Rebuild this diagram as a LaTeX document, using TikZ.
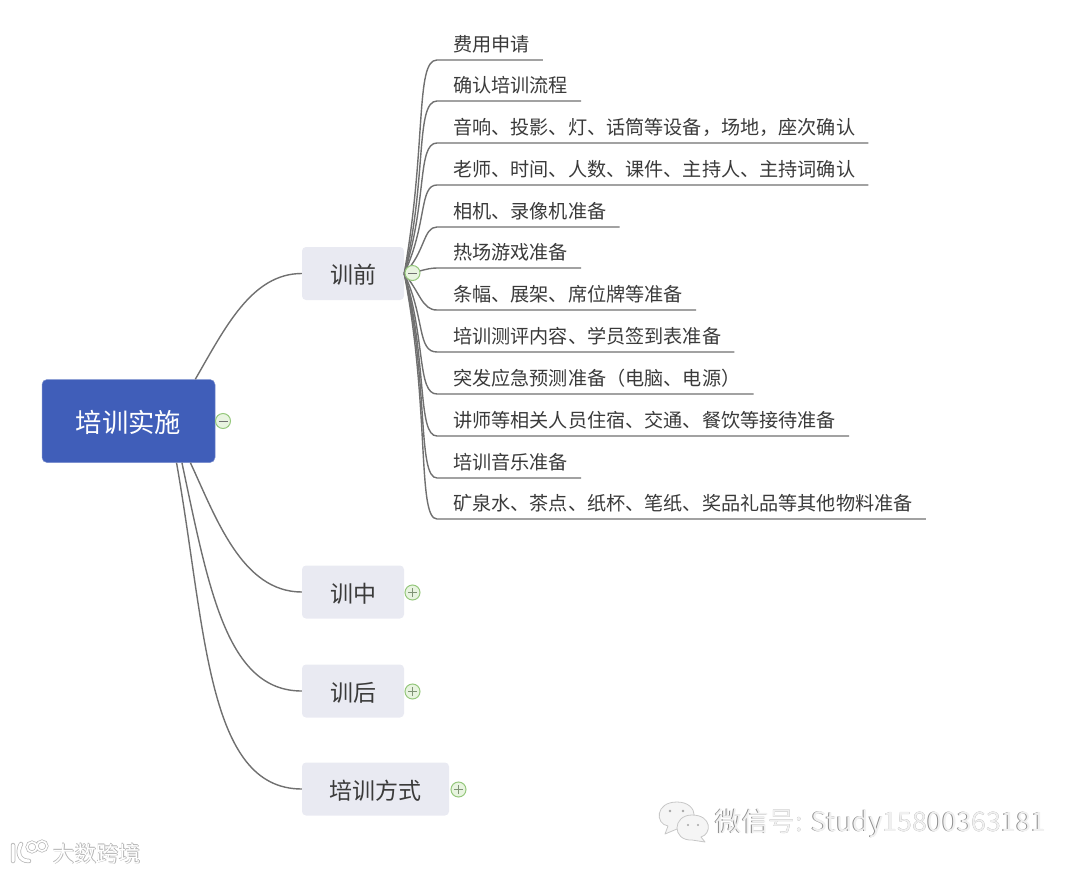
\documentclass[tikz,border=0pt]{standalone}
\usepackage{fontspec}
\setmainfont{Noto Sans CJK SC}
\usepackage{xcolor}
\usetikzlibrary{calc}
\definecolor{rootblue}{RGB}{64,94,185}
\definecolor{branchgray}{RGB}{233,234,242}
\definecolor{inkgray}{RGB}{58,58,58}
\definecolor{linegray}{RGB}{112,112,112}
\definecolor{togglegreen}{RGB}{150,200,125}
\definecolor{togglefill}{RGB}{232,244,224}

\begin{document}
\begin{tikzpicture}[
  x=1pt, y=1pt,
  rootbox/.style={fill=rootblue, draw=rootblue!70!white, line width=0.5pt, rounded corners=5pt,
    minimum width=173pt, minimum height=83pt, text=white, text height=24pt, text depth=2pt,
    font=\fontsize{26.3}{26}\selectfont},
  branchbox/.style={fill=branchgray, rounded corners=4pt, minimum width=102pt,
    minimum height=53pt, text=inkgray, text height=22pt, text depth=2pt,
    font=\fontsize{23}{24}\selectfont},
  leaf/.style={anchor=south west, inner sep=0pt, minimum height=32pt, text=inkgray,
    text height=16.4pt, text depth=2pt, font=\fontsize{19.14}{19}\selectfont,
    execute at begin node={\hspace{16pt}}, execute at end node={\hspace{13pt}}},
  arr/.style={line width=1.4pt, linegray},
  toggle/.style={circle, draw=togglegreen, fill=togglefill, line width=1pt,
    minimum size=15pt, inner sep=0pt},
  tminus/.style={toggle, path picture={
    \draw[linegray, line width=1pt] ([xshift=3pt]path picture bounding box.west) -- ([xshift=-3pt]path picture bounding box.east);}},
  tplus/.style={toggle, path picture={
    \draw[linegray!60!togglegreen, line width=1pt] ([xshift=3pt]path picture bounding box.west) -- ([xshift=-3pt]path picture bounding box.east);
    \draw[linegray!60!togglegreen, line width=1pt] ([yshift=3pt]path picture bounding box.south) -- ([yshift=-3pt]path picture bounding box.north);}},
  wmlow/.style={text=black!45, font=\fontsize{26.7}{27}\selectfont},
  wmtop/.style={text=white!94!black, font=\fontsize{26.7}{27}\selectfont},
  wmlowb/.style={text=black!30, font=\fontsize{22}{22}\selectfont},
  wmtopb/.style={text=white, font=\fontsize{22}{22}\selectfont},
  bubble/.style={fill=white!96!black, draw=black!22, line width=0.8pt, line join=round}
]
\useasboundingbox (0,0) rectangle (1080,-873);

% root and branches
\node[rootbox] (root) at (128.5,-421) {培训实施};
\node[branchbox] (qian) at (353,-273.5) {训前};
\node[branchbox] (zhong) at (353,-592) {训中};
\node[branchbox] (hou) at (353,-691) {训后};
\node[branchbox, minimum width=147pt] (fangshi) at (375.5,-789) {培训方式};

% leaves, anchored on their underline
\node[leaf] (T1) at (437,-60) {费用申请};
\node[leaf] (T2) at (437,-101) {确认培训流程};
\node[leaf] (T3) at (437,-143) {音响、投影、灯、话筒等设备，场地，座次确认};
\node[leaf] (T4) at (437,-185) {老师、时间、人数、课件、主持人、主持词确认};
\node[leaf] (T5) at (437,-227) {相机、录像机准备};
\node[leaf] (T6) at (437,-268) {热场游戏准备};
\node[leaf] (T7) at (437,-310) {条幅、展架、席位牌等准备};
\node[leaf] (T8) at (437,-352) {培训测评内容、学员签到表准备};
\node[leaf] (T9) at (437,-394) {突发应急预测准备（电脑、电源）};
\node[leaf] (T10) at (437,-436) {讲师等相关人员住宿、交通、餐饮等接待准备};
\node[leaf] (T11) at (437,-478) {培训音乐准备};
\node[leaf] (T12) at (437,-519) {矿泉水、茶点、纸杯、笔纸、奖品礼品等其他物料准备};

\draw[arr] (root.32) to[out=60,in=180,out distance=60pt,in distance=50pt] (qian.west);
\draw[arr] (root.-34) to[out=-65,in=180,out distance=60pt,in distance=60pt] (zhong.west);
\draw[arr] (root.-38) to[out=-78,in=180,out distance=130pt,in distance=75pt] (hou.west);
\draw[arr] (root.-41) to[out=-80,in=180,out distance=170pt,in distance=95pt] (fangshi.west);

\draw[arr] (qian.east) to[out=80,in=180,out distance=130pt,in distance=22pt] (T1.south west) -- (T1.south east);
\draw[arr] (qian.east) to[out=76,in=180,out distance=95pt,in distance=22pt] (T2.south west) -- (T2.south east);
\draw[arr] (qian.east) to[out=72,in=180,out distance=75pt,in distance=20pt] (T3.south west) -- (T3.south east);
\draw[arr] (qian.east) to[out=65,in=180,out distance=55pt,in distance=18pt] (T4.south west) -- (T4.south east);
\draw[arr] (qian.east) to[out=45,in=180,out distance=30pt,in distance=14pt] (T5.south west) -- (T5.south east);
\draw[arr] (qian.east) to[out=0,in=180,out distance=12pt,in distance=12pt] (T6.south west) -- (T6.south east);
\draw[arr] (qian.east) to[out=-50,in=180,out distance=25pt,in distance=15pt] (T7.south west) -- (T7.south east);
\draw[arr] (qian.east) to[out=-65,in=180,out distance=50pt,in distance=20pt] (T8.south west) -- (T8.south east);
\draw[arr] (qian.east) to[out=-72,in=180,out distance=70pt,in distance=20pt] (T9.south west) -- (T9.south east);
\draw[arr] (qian.east) to[out=-75,in=180,out distance=90pt,in distance=20pt] (T10.south west) -- (T10.south east);
\draw[arr] (qian.east) to[out=-77,in=180,out distance=110pt,in distance=20pt] (T11.south west) -- (T11.south east);
\draw[arr] (qian.east) to[out=-79,in=180,out distance=135pt,in distance=20pt] (T12.south west) -- (T12.south east);

\node[tminus] (troot) at (223,-421) {};
\node[tminus] (tqian) at (412.5,-273) {};
\node[tplus] (tzhong) at (412.5,-592.5) {};
\node[tplus] (thou) at (412.5,-691.5) {};
\node[tplus] (tfangshi) at (458.5,-789.5) {};

% watermark right
\draw[bubble] (668,-826) -- (665,-834) -- (677,-829) .. controls (700,-829) and (700,-802) .. (677,-802) .. controls (655,-802) and (655,-824) .. (668,-826) -- cycle;
\draw[bubble] (701,-837) -- (705,-842) -- (692,-840) .. controls (672,-841) and (672,-815) .. (692,-815) .. controls (712,-815) and (712,-834) .. (701,-837) -- cycle;
\fill[black!35] (670,-811) circle (1.4pt) (683,-811) circle (1.4pt) (688,-825) circle (1.2pt) (698,-825) circle (1.2pt);
\node[wmlow, anchor=west] (wxlow) at (711.4,-823.6) {微信号: Study15800363181};
\node[wmtop, anchor=west] (wxtop) at (712,-823) {微信号: Study15800363181};

% watermark left
\draw[black!28, line width=4.5pt, line cap=round] (13,-845) -- (13,-861) (21,-844) .. controls (17,-851) and (18,-861) .. (29,-861);
\draw[black!28, line width=3pt] (32,-847) circle (5pt) (42,-846) circle (5pt);
\draw[white, line width=3pt, line cap=round] (13,-845) -- (13,-861) (21,-844) .. controls (17,-851) and (18,-861) .. (29,-861);
\draw[white, line width=1.6pt] (32,-847) circle (5pt) (42,-846) circle (5pt);
\node[wmlowb, anchor=west] (dslow) at (49.5,-854.5) {大数跨境};
\node[wmlowb, anchor=west] (dslowb) at (48.5,-853.5) {大数跨境};
\node[wmtopb, anchor=west] (dstop) at (49,-854) {大数跨境};

\end{tikzpicture}
\end{document}
